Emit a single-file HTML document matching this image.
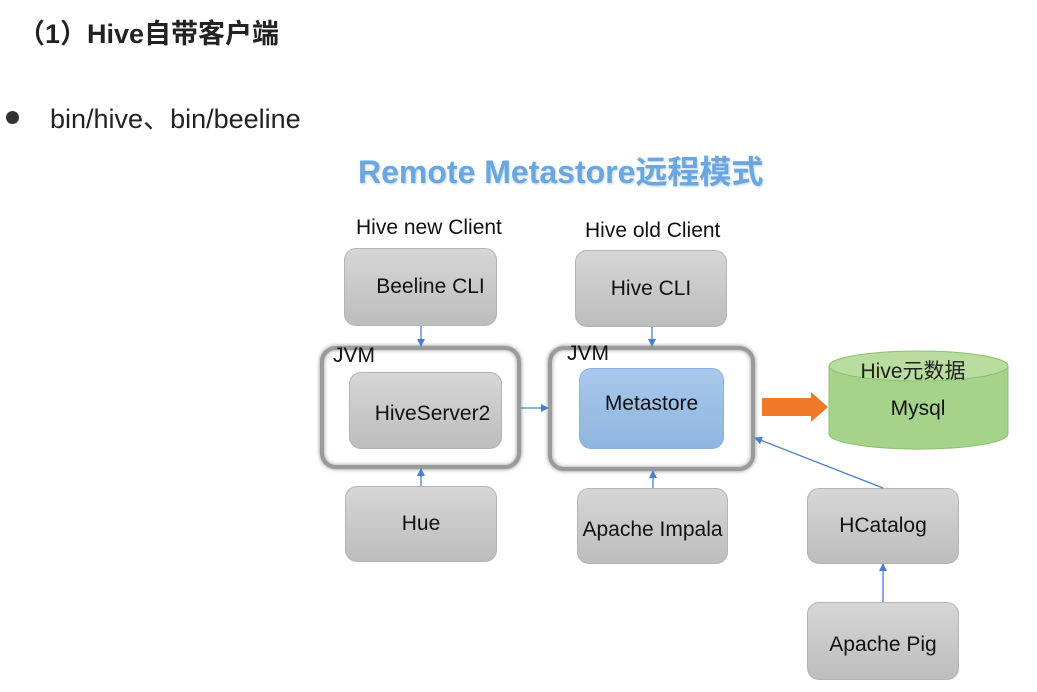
<!DOCTYPE html>
<html><head><meta charset="utf-8"><style>
body{margin:0;width:1037px;height:692px;background:#fff;position:relative;overflow:hidden;font-family:"Liberation Sans","Noto Sans CJK SC",sans-serif;color:#111}
.a{position:absolute}
.g{position:absolute;border-radius:12px;background:linear-gradient(#d6d6d6,#bdbdbd);border:1px solid #b4b4b4;box-sizing:border-box;display:flex;align-items:center;justify-content:center;font-size:21px;color:#111}
.j{position:absolute;border-radius:16px;border:4px solid #9a9a9a;box-shadow:0 0 4px #888, inset 0 0 4px #999;background:#fff;box-sizing:border-box}
.l{font-size:21px}
</style></head><body>
<div class="a" style="left:18px;top:12px;font-size:27px;font-weight:bold;color:#222">（1）Hive自带客户端</div>
<div class="a" style="left:6px;top:111px;width:13px;height:13px;border-radius:50%;background:#333"></div>
<div class="a" style="left:50px;top:97px;font-size:27px;color:#222">bin/hive、bin/beeline</div>
<div class="a" style="left:358px;top:147px;font-size:32px;font-weight:bold;color:#6aa6e0;text-shadow:1px 1px 2px #bcd3ea">Remote Metastore远程模式</div>
<div class="a l" style="left:356px;top:216px">Hive new Client</div>
<div class="a l" style="left:585px;top:219px">Hive old Client</div>
<div class="g" style="left:344px;top:248px;width:153px;height:78px;padding-left:20px">Beeline CLI</div>
<div class="g" style="left:575px;top:250px;width:152px;height:77px">Hive CLI</div>
<div class="j" style="left:320px;top:346px;width:201px;height:123px"></div>
<div class="a l" style="left:333px;top:344px">JVM</div>
<div class="g" style="left:349px;top:372px;width:153px;height:77px;padding-top:6px;padding-left:14px">HiveServer2</div>
<div class="j" style="left:548px;top:346px;width:207px;height:125px"></div>
<div class="a l" style="left:567px;top:342px">JVM</div>
<div class="g" style="left:579px;top:368px;width:145px;height:81px;background:linear-gradient(#a9c8ec,#8fb5e0);border-color:#8cb0dc;align-items:flex-start;padding-top:23px">Metastore</div>
<div class="g" style="left:345px;top:486px;width:152px;height:76px">Hue</div>
<div class="g" style="left:577px;top:488px;width:151px;height:76px;padding-top:8px">Apache Impala</div>
<div class="g" style="left:807px;top:488px;width:152px;height:76px">HCatalog</div>
<div class="g" style="left:807px;top:602px;width:152px;height:78px;padding-top:8px">Apache Pig</div>
<svg class="a" style="left:0;top:0" width="1037" height="692">
<defs><marker id="m" markerWidth="8" markerHeight="8" refX="7" refY="4" orient="auto" markerUnits="userSpaceOnUse"><path d="M0,0L8,4L0,8z" fill="#4a7fd0"/></marker></defs>
<g stroke="#4a7fd0" stroke-width="1.3" fill="none" marker-end="url(#m)">
<line x1="421" y1="326" x2="421" y2="346"/>
<line x1="652" y1="327" x2="652" y2="346"/>
<line x1="521" y1="408" x2="548" y2="408"/>
<line x1="421" y1="486" x2="421" y2="469"/>
<line x1="653" y1="488" x2="653" y2="471"/>
<line x1="883" y1="488" x2="755" y2="438"/>
<line x1="883" y1="602" x2="883" y2="564"/>
</g>
<path d="M762,398H811V392L828,407L811,422V416H762Z" fill="#f07a2a"/>
<path d="M829,366V434A89,15 0 0 0 1008,434V366Z" fill="#a6d38a" stroke="#8cc070"/>
<ellipse cx="918.5" cy="366" rx="89.5" ry="15" fill="#b8dd9e" stroke="#8cc070"/>
<text x="913" y="378" font-size="21" text-anchor="middle" font-family="Liberation Sans,Noto Sans CJK SC,sans-serif" fill="#222">Hive元数据</text>
<text x="918" y="415" font-size="21" text-anchor="middle" font-family="Liberation Sans,sans-serif" fill="#111">Mysql</text>
</svg>
</body></html>
